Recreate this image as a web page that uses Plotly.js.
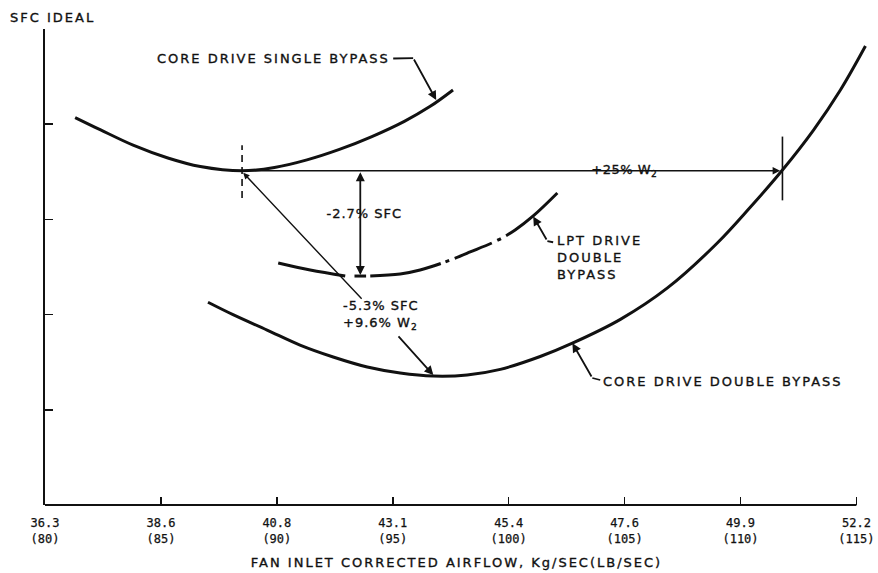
<!DOCTYPE html>
<html>
<head>
<meta charset="utf-8">
<script src="https://cdn.plot.ly/plotly-3.0.1.min.js"></script>
<style>
  html, body { margin: 0; padding: 0; background: #fff; }
  #chart { width: 878px; height: 573px; }
  .annotation text { letter-spacing: 2px; stroke: #111; stroke-width: 0.35px; }
  .annotation[data-index="4"] text { letter-spacing: 0.5px; }
  .annotation[data-index="5"] text { letter-spacing: 1px; }
  .annotation[data-index="6"] text { letter-spacing: 1px; }
  .xtitle { letter-spacing: 2px; stroke: #111; stroke-width: 0.35px; }
  .xtick text { stroke: #111; stroke-width: 0.25px; }
</style>
</head>
<body>
<div id="chart"></div>
<script>
// Fan inlet corrected airflow axis (lb/sec) and tick labels kg/sec (lb/sec)
const tickLb = [80, 85, 90, 95, 100, 105, 110, 115];
const tickKg = ["36.3", "38.6", "40.8", "43.1", "45.4", "47.6", "49.9", "52.2"];

// Core drive single bypass (SFC, relative units)
const singleX = [81.3, 82.4, 83.8, 85.3, 86.7, 88.5, 89.9, 91.3, 92.7, 94.1, 95.5, 96.6, 97.6];
const singleY = [4.07, 3.94, 3.78, 3.645, 3.555, 3.51, 3.545, 3.625, 3.735, 3.87, 4.03, 4.185, 4.36];

// Core drive double bypass
const doubleX = [87.03, 88.11, 89.58, 91.0, 92.43, 93.9, 95.32, 96.75, 98.21, 99.64, 101.36, 102.75, 104.82, 106.85, 109.0, 110.43, 111.81, 113.15, 114.31, 115.39];
const doubleY = [2.13, 2.0, 1.838, 1.68, 1.555, 1.45, 1.387, 1.355, 1.366, 1.425, 1.56, 1.70, 1.95, 2.28, 2.752, 3.13, 3.519, 3.939, 4.359, 4.821];

// LPT drive double bypass (solid part and dash-dot part)
const lptSolidX = [90.06, 91.44, 92.95];
const lptSolidY = [2.542, 2.468, 2.405];
const lptDashX = [94.03, 95.32, 96.18, 97.26, 98.34, 99.55, 100.28, 101.06, 102.10];
const lptDashY = [2.405, 2.426, 2.468, 2.553, 2.658, 2.784, 2.889, 3.036, 3.277];

// Key points
const ptSingleMin = {x: 88.5, y: 3.51};
const ptDoubleMatch = {x: 111.81, y: 3.51};
const ptLptMin = {x: 93.6, y: 2.415};
const ptDiagEnd = {x: 93.72, y: 2.15};

const FONT = "DejaVu Sans";
const black = "#111";

const traces = [
  {x: singleX, y: singleY, mode: "lines", line: {color: black, width: 3, shape: "spline", smoothing: 1}, hoverinfo: "skip"},
  {x: doubleX, y: doubleY, mode: "lines", line: {color: black, width: 3, shape: "spline", smoothing: 1}, hoverinfo: "skip"},
  {x: lptSolidX, y: lptSolidY, mode: "lines", line: {color: black, width: 3, shape: "spline"}, hoverinfo: "skip"},
  {x: lptDashX, y: lptDashY, mode: "lines", line: {color: black, width: 3, shape: "spline", dash: "72px,5px,4px,6px,40px,6px,4px,6px"}, hoverinfo: "skip"}
];

function arrow(tx, ty, axx, ayy, extra) {
  return Object.assign({
    x: tx, y: ty, ax: axx, ay: ayy, xref: "x", yref: "y", axref: "x", ayref: "y",
    text: "", showarrow: true, arrowhead: 2, arrowsize: 1, arrowwidth: 1.6, arrowcolor: black
  }, extra || {});
}

const annotations = [
  {text: "SFC IDEAL", xref: "paper", yref: "paper", x: 0, y: 1, xshift: 7.5, yshift: 12,
   xanchor: "center", yanchor: "middle", showarrow: false, font: {family: FONT, size: 13, color: black}},
  {text: "CORE DRIVE SINGLE BYPASS", xref: "x", yref: "y", x: 89.86, y: 4.695,
   xanchor: "center", yanchor: "middle", showarrow: false, font: {family: FONT, size: 13, color: black}},
  {text: "LPT DRIVE<br>DOUBLE<br>BYPASS", xref: "x", yref: "y", x: 102.0, y: 2.595, align: "left",
   xanchor: "left", yanchor: "middle", showarrow: false, font: {family: FONT, size: 13, color: black}},
  {text: "CORE DRIVE DOUBLE BYPASS", xref: "x", yref: "y", x: 109.25, y: 1.30,
   xanchor: "center", yanchor: "middle", showarrow: false, font: {family: FONT, size: 13, color: black}},
  {text: "+25% W<sub>2</sub>", xref: "x", yref: "y", x: 105.0, y: 3.51, bgcolor: "#fff", borderpad: 2,
   xanchor: "center", yanchor: "middle", showarrow: false, font: {family: FONT, size: 13, color: black}},
  {text: "-2.7% SFC", xref: "x", yref: "y", x: 93.8, y: 3.057, bgcolor: "#fff", borderpad: 2,
   xanchor: "center", yanchor: "middle", showarrow: false, font: {family: FONT, size: 13, color: black}},
  {text: "-5.3% SFC<br>+9.6% W<sub>2</sub>", xref: "x", yref: "y", x: 92.75, y: 1.996, align: "left",
   xanchor: "left", yanchor: "middle", showarrow: false, font: {family: FONT, size: 13, color: black}},
  // arrows
  arrow(ptDoubleMatch.x - 0.1, ptDoubleMatch.y, ptSingleMin.x, ptSingleMin.y, {arrowwidth: 1.5}),
  arrow(ptLptMin.x, ptLptMin.y, ptLptMin.x, ptSingleMin.y, {arrowside: "end+start", arrowwidth: 1.8}),
  arrow(ptSingleMin.x + 0.05, ptSingleMin.y - 0.02, ptDiagEnd.x, ptDiagEnd.y, {arrowwidth: 1.4, arrowsize: 0.9}),
  arrow(96.75, 1.365, 95.19, 1.786, {arrowwidth: 1.8}),
  arrow(96.875, 4.254, 95.88, 4.695, {arrowwidth: 1.8}),
  arrow(101.06, 3.03, 101.67, 2.773, {arrowwidth: 1.8}),
  arrow(102.75, 1.70, 103.61, 1.334, {arrowwidth: 1.8})
];

const shapes = [
  // bottom axis line
  {type: "line", xref: "x", yref: "paper", x0: 80, x1: 115, y0: 0, y1: 0, line: {color: black, width: 2.2}},
  // vertical markers
  {type: "line", xref: "x", yref: "y", x0: ptSingleMin.x, x1: ptSingleMin.x, y0: 3.225, y1: 3.78, line: {color: black, width: 1.6, dash: "7px,5px"}},
  {type: "line", xref: "x", yref: "y", x0: ptDoubleMatch.x, x1: ptDoubleMatch.x, y0: 3.20, y1: 3.87, line: {color: black, width: 1.6}},
  // leader stubs
  {type: "line", xref: "x", yref: "y", x0: 95.02, x1: 95.88, y0: 4.69, y1: 4.695, line: {color: black, width: 1.8}},
  {type: "line", xref: "x", yref: "y", x0: 101.67, x1: 101.92, y0: 2.773, y1: 2.76, line: {color: black, width: 1.8}},
  {type: "line", xref: "x", yref: "y", x0: 103.61, x1: 103.95, y0: 1.334, y1: 1.313, line: {color: black, width: 1.8}},
  // bar at LPT arrow end
  {type: "line", xref: "x", yref: "y", x0: 93.35, x1: 93.85, y0: 2.405, y1: 2.405, line: {color: black, width: 3}}
];

const layout = {
  width: 878, height: 573,
  margin: {l: 45, r: 10, t: 29, b: 68},
  paper_bgcolor: "#fff", plot_bgcolor: "#fff",
  showlegend: false,
  xaxis: {
    range: [80, 115.5], tickvals: tickLb,
    ticktext: tickKg.map((k, i) => k + "<br>(" + tickLb[i] + ")"),
    ticks: "inside", ticklen: 8, tickwidth: 1.5, tickcolor: black,
    ticklabelstandoff: 9,
    showgrid: false, zeroline: false, showline: false,
    tickfont: {family: "DejaVu Sans Mono", size: 12, color: black},
    title: {text: "FAN INLET CORRECTED AIRFLOW, Kg/SEC(LB/SEC)", font: {family: FONT, size: 13, color: black}, standoff: 13},
    fixedrange: true
  },
  yaxis: {
    range: [0, 5], tickvals: [1, 2, 3, 4, 5], showticklabels: false,
    ticks: "inside", ticklen: 8, tickwidth: 1.5, tickcolor: black,
    showgrid: false, zeroline: false, showline: true, linewidth: 2.2, linecolor: black,
    fixedrange: true
  },
  annotations: annotations,
  shapes: shapes
};

Plotly.newPlot("chart", traces, layout, {displayModeBar: false, staticPlot: true});
</script>
</body>
</html>
